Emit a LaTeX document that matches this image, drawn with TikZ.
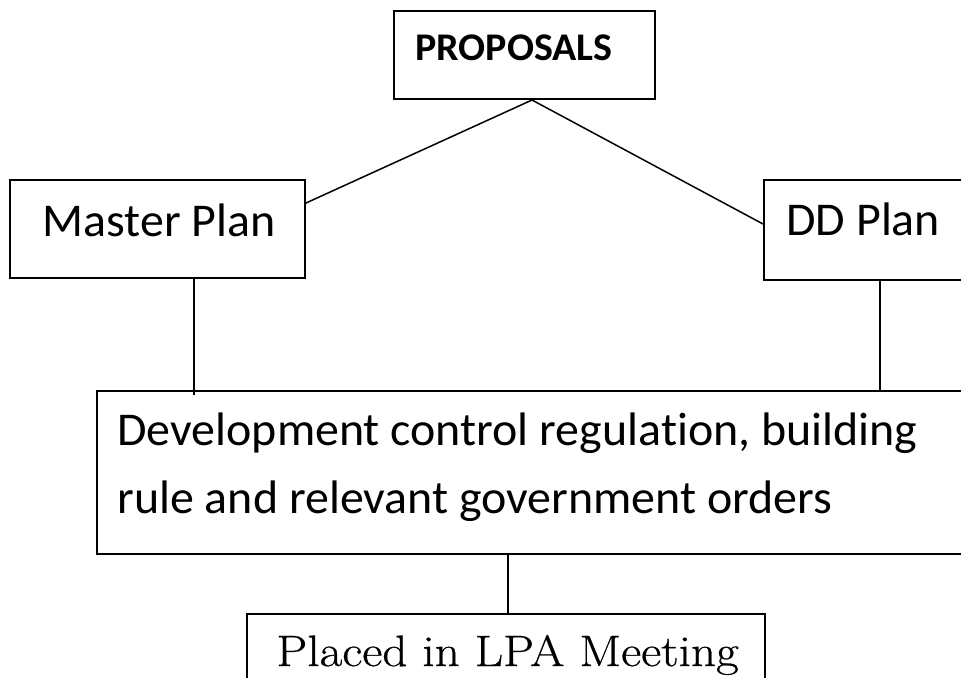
\documentclass[tikz,border=0pt]{standalone}
\usepackage{fontspec}
\newfontfamily\calibri[Ligatures=NoCommon,FakeStretch=1.02]{Carlito}
\newfontfamily\plainserif[FakeStretch=1.12,FakeBold=0.6]{Latin Modern Roman}

\begin{document}
\begin{tikzpicture}[x=0.5pt,y=-0.5pt]
    \tikzstyle{box}=[rectangle,draw=black,line width=1pt,inner sep=0pt,anchor=north west]
    \tikzstyle{label}=[inner sep=0pt,anchor=base west]
    \tikzstyle{link}=[line width=0.75pt]
    \useasboundingbox (0,0) rectangle (961,677);
    \clip (0,0) rectangle (961,677);
    % the frames
    \node[box,minimum width=130.5pt,minimum height=44pt] (proposals) at (393,10) {};
    \node[box,minimum width=147.5pt,minimum height=49pt] (master) at (9,179) {};
    \node[box,minimum width=125pt,minimum height=50pt] (ddplan) at (763,179) {};
    \node[box,minimum width=452pt,minimum height=81.5pt] (dcr) at (96,390) {};
    \node[box,minimum width=259pt,minimum height=50pt] (lpa) at (246,613) {};
    % the texts
    \node[label,font=\calibri\bfseries\fontsize{19.6}{24}\selectfont] (proposalsText) at (415,60) {PROPOSALS};
    \node[label,font=\calibri\fontsize{23.5}{34}\selectfont] (masterText) at (42,236) {Master Plan};
    \node[label,font=\calibri\fontsize{23.5}{34}\selectfont] (ddplanText) at (786,235) {DD Plan};
    \node[label,font=\calibri\fontsize{23.5}{34}\selectfont] (dcrTextA) at (117,445) {Development control regulation, building};
    \node[label,font=\calibri\fontsize{23.5}{34}\selectfont] (dcrTextB) at (117,513) {rule and relevant government orders};
    \node[label,font=\plainserif\fontsize{22}{26}\selectfont] (lpaText) at (276,666) {Placed in LPA Meeting};
    % the links
    \draw[link] ([xshift=3.75pt]proposals.south) -- ([yshift=13pt]master.east);
    \draw[link] ([xshift=3.75pt]proposals.south) -- ([yshift=3pt]ddplan.west);
    \draw[link] ([xshift=92.5pt]master.south west) -- ([xshift=92.5pt,yshift=-2.5pt]master.south west |- dcr.north);
    \draw[link] ([xshift=58.5pt]ddplan.south west) -- ([xshift=58.5pt]ddplan.south west |- dcr.north);
    \draw[link] ([xshift=206pt]dcr.south west) -- ([xshift=206pt]dcr.south west |- lpa.north);
\end{tikzpicture}
\end{document}
